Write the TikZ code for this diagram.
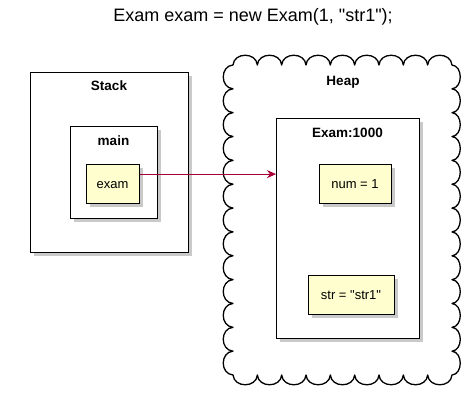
\documentclass[tikz,border=0pt]{standalone}
\usepackage{fontspec}
\setmainfont{Liberation Sans}[Ligatures=TeXOff]
\usetikzlibrary{arrows.meta,shadows,calc}
\definecolor{objfill}{HTML}{FEFECE}
\definecolor{arrcol}{HTML}{A80036}
\tikzset{
  frame/.style={draw=black, line width=1.4pt, fill=white, anchor=north west, inner sep=0pt,
    drop shadow={shadow xshift=3pt, shadow yshift=-3pt, fill=black!35, opacity=0.6}},
  obj/.style={frame, fill=objfill},
  ttl/.style={font=\fontsize{13.5}{16}\selectfont\bfseries},
  val/.style={font=\fontsize{13}{16}\selectfont},
  arr/.style={draw=arrcol, line width=0.9pt, -{Stealth[length=9pt,width=8pt,inset=3pt]}},
  cloudline/.style={draw=black, line width=1.3pt, line join=round, fill=white}
}
\begin{document}
\begin{tikzpicture}[x=1pt,y=-1pt]
\useasboundingbox (0,0) rectangle (476,402);
\node[font=\fontsize{18}{21}\selectfont] (title) at (253,17) {Exam exam = new Exam(1, "str1");};

% Stack
\node[frame, minimum width=158pt, minimum height=180pt] (stack) at (30,72) {};
\node[ttl] (stacklbl) at (109,86) {Stack};
\node[frame, minimum width=87pt, minimum height=92pt] (main) at (70,126) {};
\node[ttl] (mainlbl) at (113.5,141) {main};
\node[obj, minimum width=53pt, minimum height=39pt] (exam) at (86,164) {};
\node[val] (examlbl) at (112.5,185) {exam};

% Heap cloud
\draw[cloudline] (233,65)
  foreach \i in {1,...,9}{ .. controls ({233+(\i-1)*24.33+1},52) and ({233+\i*24.33-1},52) .. ({233+\i*24.33},65) }
  foreach \i in {1,...,13}{ .. controls (463,{65+(\i-1)*23.85+1}) and (463,{65+\i*23.85-1}) .. (452,{65+\i*23.85}) }
  foreach \i in {1,...,9}{ .. controls ({452-(\i-1)*24.33-1},388) and ({452-\i*24.33+1},388) .. ({452-\i*24.33},375) }
  foreach \i in {1,...,13}{ .. controls (220,{375-(\i-1)*23.85-1}) and (220,{375-\i*23.85+1}) .. (233,{375-\i*23.85}) }
  -- cycle;
\node[ttl] (heaplbl) at (343,82) {Heap};

\node[frame, minimum width=143pt, minimum height=220pt] (inst) at (276,118) {};
\node[ttl] (instlbl) at (347.5,133) {Exam:1000};
\node[obj, minimum width=72pt, minimum height=39pt] (num) at (319,164) {};
\node[val] (numlbl) at (355,184.5) {num = 1};
\node[obj, minimum width=86pt, minimum height=39pt] (str) at (308,275) {};
\node[val] (strlbl) at (351,295) {str = "str1"};

% Arrow
\coordinate (start) at ($(exam.north east)!0.25!(exam.south east)$);
\draw[arr] (start) -- (start -| inst.west);
\end{tikzpicture}
\end{document}
